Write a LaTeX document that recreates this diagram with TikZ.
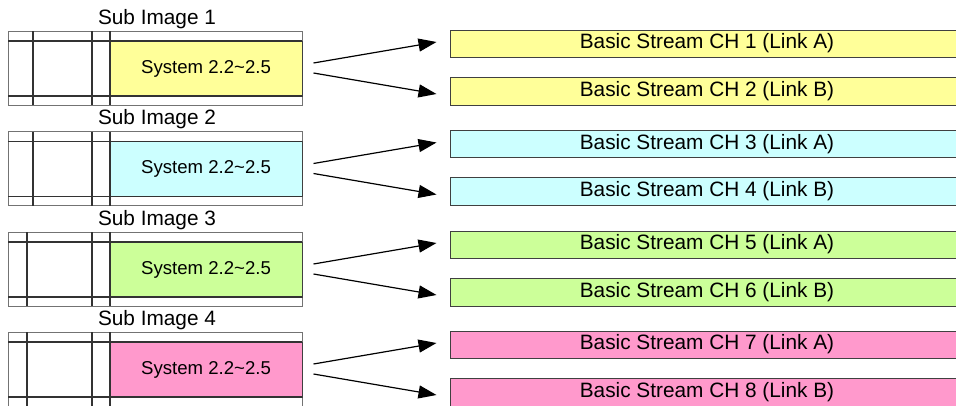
\documentclass[tikz,border=0pt]{standalone}
\usepackage{fontspec}
\setmainfont{Liberation Sans}
\usetikzlibrary{arrows.meta}
\definecolor{ylw}{HTML}{FFFF99}
\definecolor{cyn}{HTML}{CCFFFF}
\definecolor{grn}{HTML}{CCFF99}
\definecolor{pnk}{HTML}{FF99CC}
\definecolor{edge}{HTML}{404040}
\tikzset{
  frameline/.style={draw=black!80, line width=1.2pt},
  outerline/.style={draw=black!55, line width=0.8pt},
  sysbox/.style={draw=edge, line width=1pt, inner sep=0pt, minimum width=192pt, minimum height=55pt, font=\fontsize{18.6}{22}\selectfont},
  chbox/.style={draw=edge, line width=1pt, inner sep=0pt, minimum width=514pt, font=\fontsize{20.8}{24}\selectfont},
  sublabel/.style={inner sep=0pt, font=\fontsize{20.8}{24}\selectfont},
  arr/.style={line width=1.2pt, -{Triangle[length=18pt,width=13pt]}}
}
\begin{document}
\begin{tikzpicture}[x=1pt,y=-1pt]
\useasboundingbox (0,0) rectangle (956,405);
\clip (0,0) rectangle (956,405);
\fill[white] (0,0) rectangle (956,405);
\foreach \k/\dy/\col/\lx in {1/0/ylw/33, 2/100.5/cyn/33, 3/201/grn/27, 4/301/pnk/27}{
  \pgfmathtruncatemacro{\ca}{2*\k-1}
  \pgfmathtruncatemacro{\cb}{2*\k}
  % frame
  \draw[outerline] (8,31+\dy) rectangle (302,105+\dy);
  \node[sysbox, fill=\col] (sys\k) at (206,68.5+\dy) {System 2.2\char"007E 2.5};
  \draw[frameline] (8,41+\dy) -- (302,41+\dy);
  \draw[frameline] (8,96+\dy) -- (302,96+\dy);
  \draw[frameline] (\lx,31+\dy) -- (\lx,105+\dy);
  \draw[frameline] (92,31+\dy) -- (92,105+\dy);
  \draw[frameline] (110,31+\dy) -- (110,105+\dy);
  \node[sublabel] (lbl\k) at (157,19+\dy) {Sub Image \k};
  % channel boxes
  \node[chbox, fill=\col, minimum height=27pt] (chA\k) at (707,43.5+\dy) {Basic Stream CH \ca\ (Link A)};
  \node[chbox, fill=\col, minimum height=28pt] (chB\k) at (707,91+\dy) {Basic Stream CH \cb\ (Link B)};
  % arrows
  \draw[arr] ([xshift=11pt,yshift=5.5pt]sys\k.east) -- ([xshift=-13pt,yshift=1.5pt]chA\k.west);
  \draw[arr] ([xshift=11pt,yshift=-4.5pt]sys\k.east) -- ([xshift=-13pt,yshift=-3pt]chB\k.west);
}
\end{tikzpicture}
\end{document}
